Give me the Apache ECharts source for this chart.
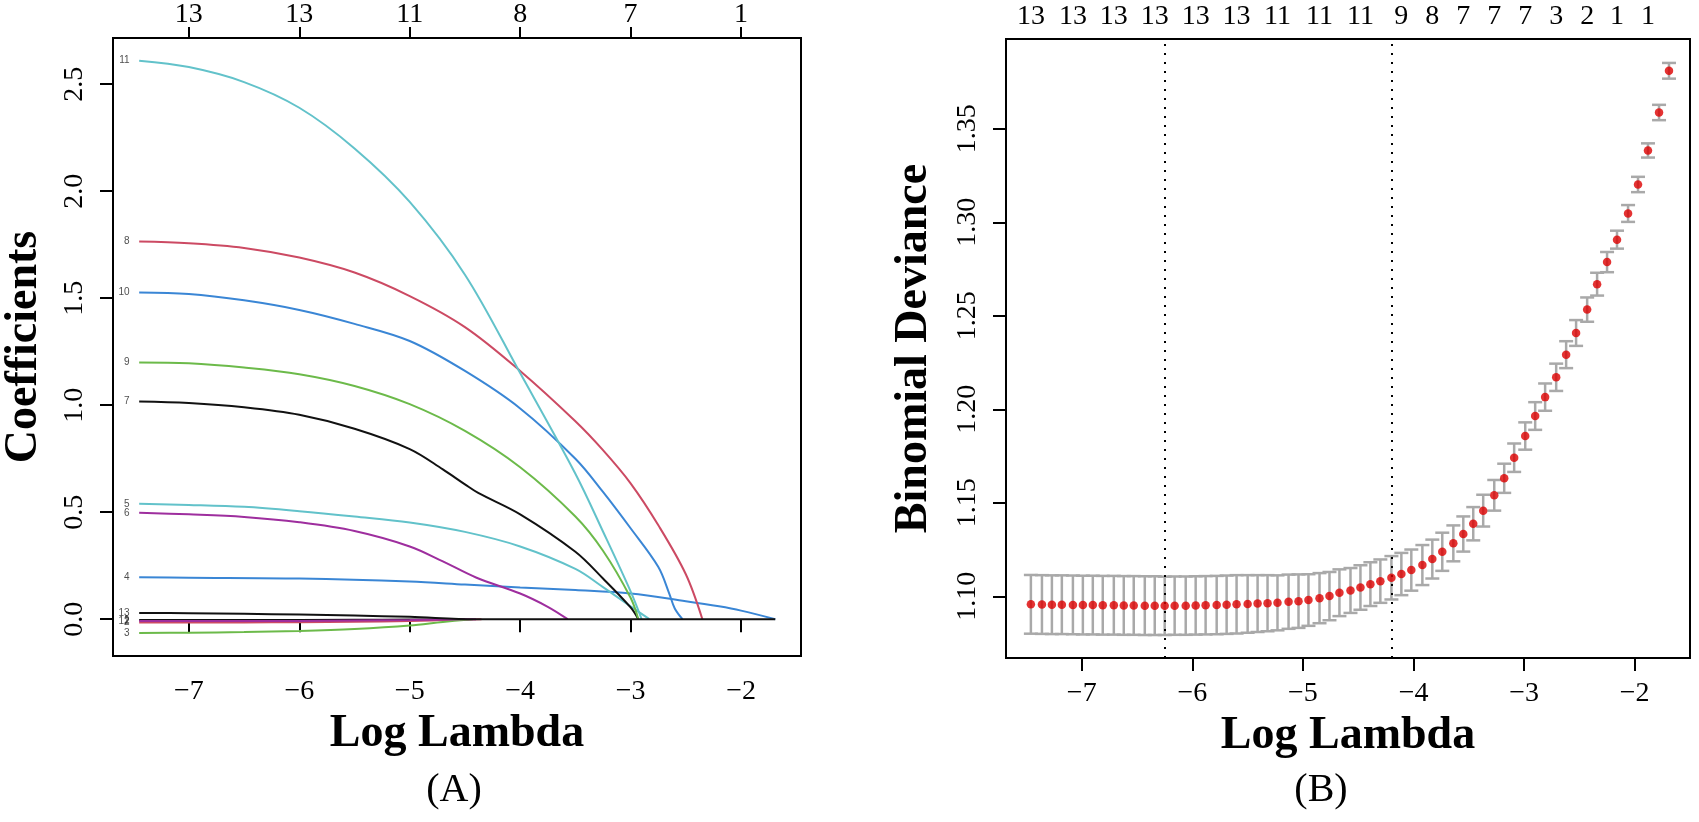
<!DOCTYPE html>
<html>
<head>
<meta charset="utf-8">
<title>LASSO coefficient paths and cross-validation</title>
<script src="https://cdn.jsdelivr.net/npm/echarts@6/dist/echarts.min.js"></script>
<style>
  html, body { margin: 0; padding: 0; background: #fff; }
  #chart { width: 1699px; height: 822px; }
</style>
</head>
<body>
<div id="chart"></div>
<script>
// (A) coefficient paths, [log lambda, coefficient] per variable
var coef1  = [[-7.45, -0.004], [-6.5, -0.004], [-5.5, -0.003], [-5, -0.002], [-4.5, 0]];
var coef2  = [[-7.45, -0.016], [-6.5, -0.015], [-6, -0.014], [-5.5, -0.012], [-5, -0.008], [-4.6, -0.003], [-4.35, 0]];
var coef3  = [[-7.45, -0.064], [-7, -0.063], [-6.5, -0.060], [-6, -0.055], [-5.5, -0.046], [-5, -0.030], [-4.7, -0.013], [-4.43, 0]];
var coef4  = [[-7.45, 0.196], [-7, 0.194], [-6, 0.190], [-5, 0.176], [-4.5, 0.162], [-4, 0.148], [-3.5, 0.136], [-3, 0.120], [-2.5, 0.084], [-2.2, 0.060], [-2, 0.040], [-1.69, 0]];
var coef5  = [[-7.45, 0.539], [-7, 0.534], [-6.5, 0.525], [-6, 0.505], [-5.5, 0.480], [-5, 0.452], [-4.5, 0.408], [-4, 0.340], [-3.5, 0.235], [-3.25, 0.150], [-3, 0.060], [-2.83, 0]];
var coef6  = [[-7.45, 0.497], [-7, 0.490], [-6.5, 0.478], [-6, 0.453], [-5.5, 0.412], [-5, 0.340], [-4.7, 0.270], [-4.4, 0.195], [-4, 0.120], [-3.75, 0.058], [-3.57, 0]];
var coef7  = [[-7.45, 1.017], [-7, 1.010], [-6.5, 0.990], [-6, 0.955], [-5.5, 0.890], [-5, 0.795], [-4.7, 0.700], [-4.5, 0.630], [-4.38, 0.590], [-4, 0.490], [-3.5, 0.315], [-3.25, 0.190], [-3, 0.055], [-2.93, 0]];
var coef8  = [[-7.45, 1.765], [-7, 1.757], [-6.5, 1.735], [-6, 1.690], [-5.5, 1.620], [-5, 1.510], [-4.5, 1.365], [-4, 1.160], [-3.5, 0.925], [-3.25, 0.790], [-3, 0.635], [-2.75, 0.440], [-2.5, 0.210], [-2.35, 0]];
var coef9  = [[-7.45, 1.200], [-7, 1.196], [-6.5, 1.176], [-6, 1.145], [-5.5, 1.090], [-5, 1.005], [-4.5, 0.880], [-4, 0.710], [-3.5, 0.480], [-3.25, 0.320], [-3, 0.100], [-2.93, 0]];
var coef10 = [[-7.45, 1.527], [-7, 1.520], [-6.5, 1.490], [-6, 1.445], [-5.5, 1.380], [-5, 1.300], [-4.5, 1.160], [-4, 0.985], [-3.5, 0.750], [-3.25, 0.595], [-3, 0.425], [-2.75, 0.245], [-2.65, 0.120], [-2.6, 0.050], [-2.53, 0]];
var coef11 = [[-7.45, 2.610], [-7, 2.580], [-6.5, 2.510], [-6, 2.390], [-5.5, 2.200], [-5, 1.950], [-4.5, 1.610], [-4, 1.150], [-3.5, 0.680], [-3.25, 0.410], [-3, 0.130], [-2.9, 0]];
var coef12 = [[-7.45, -0.009], [-6.5, -0.009], [-6, -0.008], [-5.5, -0.006], [-5, -0.004], [-4.6, -0.001], [-4.4, 0]];
var coef13 = [[-7.45, 0.029], [-7, 0.028], [-6.5, 0.025], [-6, 0.022], [-5.5, 0.017], [-5, 0.011], [-4.4, 0], [-1.69, 0]];

var pathTicks = [-7, -6, -5, -4, -3, -2];
var pathTopLabels = ['13', '13', '11', '8', '7', '1'];
var coefTicks = [0, 0.5, 1, 1.5, 2, 2.5];

// (B) cross-validated binomial deviance
var logLambda = [-7.46, -7.36, -7.27, -7.18, -7.08, -6.99, -6.90, -6.81, -6.71, -6.62,
                 -6.53, -6.43, -6.34, -6.25, -6.16, -6.06, -5.97, -5.88, -5.78, -5.69,
                 -5.60, -5.50, -5.41, -5.32, -5.23, -5.13, -5.04, -4.95, -4.85, -4.76,
                 -4.67, -4.57, -4.48, -4.39, -4.30, -4.20, -4.11, -4.02, -3.92, -3.83,
                 -3.74, -3.64, -3.55, -3.46, -3.37, -3.27, -3.18, -3.09, -2.99, -2.90,
                 -2.81, -2.71, -2.62, -2.53, -2.43, -2.34, -2.25, -2.16, -2.06, -1.97,
                 -1.88, -1.78, -1.69];
var cvMean = [1.0957, 1.0956, 1.0955, 1.0955, 1.0954, 1.0953, 1.0953, 1.0952, 1.0952, 1.0951,
              1.0951, 1.0950, 1.0950, 1.0949, 1.0950, 1.0950, 1.0951, 1.0952, 1.0953, 1.0955,
              1.0957, 1.0959, 1.0961, 1.0963, 1.0965, 1.0971, 1.0974, 1.0980, 1.0990, 1.1001,
              1.1019, 1.1031, 1.1047, 1.1065, 1.1081, 1.1099, 1.1119, 1.1140, 1.1167, 1.1199,
              1.1238, 1.1283, 1.1333, 1.1388, 1.1458, 1.1540, 1.1631, 1.1741, 1.1857, 1.1964,
              1.2065, 1.2171, 1.2292, 1.2408, 1.2533, 1.2669, 1.2787, 1.2907, 1.3047, 1.3202,
              1.3384, 1.3587, 1.3810];
var cvSe = [0.0157, 0.0157, 0.0157, 0.0157, 0.0157, 0.0157, 0.0157, 0.0157, 0.0157, 0.0157,
            0.0157, 0.0157, 0.0157, 0.0156, 0.0156, 0.0156, 0.0156, 0.0156, 0.0156, 0.0156,
            0.0156, 0.0154, 0.0152, 0.0150, 0.0147, 0.0145, 0.0143, 0.0138, 0.0134, 0.0129,
            0.0125, 0.0120, 0.0119, 0.0117, 0.0116, 0.0116, 0.0113, 0.0110, 0.0107, 0.0104,
            0.0102, 0.0096, 0.0094, 0.0089, 0.0085, 0.0082, 0.0078, 0.0076, 0.0073, 0.0074,
            0.0073, 0.0073, 0.0072, 0.0069, 0.0065, 0.0061, 0.0054, 0.0048, 0.0045, 0.0041,
            0.0038, 0.0041, 0.0042];
var lambdaMin = -6.25;
var lambda1se = -4.20;
var cvTopAt = [-7.46, -7.08, -6.71, -6.34, -5.97, -5.60, -5.23, -4.85, -4.48, -4.11,
               -3.83, -3.55, -3.27, -2.99, -2.71, -2.43, -2.16, -1.88];
var cvTopLabels = ['13', '13', '13', '13', '13', '13', '11', '11', '11', '9',
                   '8', '7', '7', '7', '3', '2', '1', '1'];
var devTicks = [1.10, 1.15, 1.20, 1.25, 1.30, 1.35];

var serif = '"Liberation Serif", "Times New Roman", serif';

function minus(v) {
    return v < 0 ? '\u2212' + Math.abs(v) : String(v);
}
function lookup(at, labels) {
    return function (v) {
        var best = 0;
        for (var i = 1; i < at.length; i++) {
            if (Math.abs(at[i] - v) < Math.abs(at[best] - v)) best = i;
        }
        return labels[best];
    };
}

function bottomAxis(grid, min, max) {
    return {
        gridIndex: grid, type: 'value', position: 'bottom', min: min, max: max,
        axisLine: {show: false}, splitLine: {show: false},
        axisTick: {show: true, length: 13, customValues: pathTicks, lineStyle: {color: '#000', width: 2}},
        axisLabel: {customValues: pathTicks, margin: 22, fontSize: 28, color: '#000', fontFamily: serif, formatter: minus},
        name: 'Log Lambda', nameLocation: 'middle', nameGap: 55,
        nameTextStyle: {fontSize: 46, fontWeight: 'bold', color: '#000', fontFamily: serif}
    };
}

var pathColors = {
    black: '#111111', red: '#CC4A63', green: '#6CBA4A',
    blue: '#3A86D5', cyan: '#62C2CA', magenta: '#9E2E9E'
};
var paths = [
    ['1', coef1, 'black'], ['2', coef2, 'red'], ['3', coef3, 'green'],
    ['4', coef4, 'blue'], ['5', coef5, 'cyan'], ['6', coef6, 'magenta'],
    ['7', coef7, 'black'], ['8', coef8, 'red'], ['9', coef9, 'green'],
    ['10', coef10, 'blue'], ['11', coef11, 'cyan'], ['12', coef12, 'magenta'],
    ['13', coef13, 'black']
];

var series = [];
paths.forEach(function (p) {
    series.push({
        type: 'line', name: 'V' + p[0], xAxisIndex: 0, yAxisIndex: 0,
        data: p[1], showSymbol: false, smooth: 0.35,
        lineStyle: {color: pathColors[p[2]], width: 2}, silent: true, z: 3
    });
});
series.push({
    type: 'scatter', xAxisIndex: 0, yAxisIndex: 0, symbolSize: 1,
    itemStyle: {color: 'rgba(0,0,0,0)'}, silent: true, z: 4,
    data: paths.map(function (p) { return {name: p[0], value: p[1][0]}; }),
    label: {show: true, position: 'left', distance: 9, formatter: '{b}', fontSize: 10,
            color: '#222', fontFamily: '"Liberation Sans", Arial, sans-serif'}
});

series.push({
    type: 'custom', xAxisIndex: 2, yAxisIndex: 1, silent: true, z: 2,
    data: logLambda.map(function (x, i) { return [x, cvMean[i] - cvSe[i], cvMean[i] + cvSe[i]]; }),
    encode: {x: 0, y: [1, 2]},
    renderItem: function (params, api) {
        var x = api.value(0);
        var lo = api.coord([x, api.value(1)]);
        var hi = api.coord([x, api.value(2)]);
        var w = 7;
        var st = {stroke: '#A9A9A9', lineWidth: 2.5};
        return {
            type: 'group', children: [
                {type: 'line', shape: {x1: hi[0], y1: hi[1], x2: lo[0], y2: lo[1]}, style: st},
                {type: 'line', shape: {x1: hi[0] - w, y1: hi[1], x2: hi[0] + w, y2: hi[1]}, style: st},
                {type: 'line', shape: {x1: lo[0] - w, y1: lo[1], x2: lo[0] + w, y2: lo[1]}, style: st}
            ]
        };
    }
});
series.push({
    type: 'scatter', xAxisIndex: 2, yAxisIndex: 1, symbolSize: 8.5, silent: true, z: 5,
    itemStyle: {color: '#DD0000'},
    data: logLambda.map(function (x, i) { return [x, cvMean[i]]; }),
    markLine: {
        silent: true, symbol: 'none', label: {show: false},
        lineStyle: {color: '#000', width: 2, type: [2, 7]},
        data: [{xAxis: lambdaMin}, {xAxis: lambda1se}]
    }
});

var chart = echarts.init(document.getElementById('chart'), null, {renderer: 'canvas'});
chart.setOption({
    backgroundColor: '#ffffff',
    animation: false,
    grid: [
        {left: 111, right: 898, top: 38, bottom: 166, show: true, borderColor: '#000', borderWidth: 2, backgroundColor: 'transparent'},
        {left: 1006, right: 9, top: 39, bottom: 164, show: true, borderColor: '#000', borderWidth: 2, backgroundColor: 'transparent'}
    ],
    xAxis: [
        bottomAxis(0, -7.687, -1.457),
        {
            gridIndex: 0, type: 'value', position: 'top', min: -7.687, max: -1.457,
            axisLine: {show: false}, splitLine: {show: false},
            axisTick: {show: true, length: 11, customValues: pathTicks, lineStyle: {color: '#000', width: 2}},
            axisLabel: {customValues: pathTicks, margin: 9, fontSize: 28, color: '#000', fontFamily: serif,
                        formatter: lookup(pathTicks, pathTopLabels)}
        },
        bottomAxis(1, -7.685, -1.50),
        {
            gridIndex: 1, type: 'value', position: 'top', min: -7.685, max: -1.50,
            axisLine: {show: false}, splitLine: {show: false}, axisTick: {show: false},
            axisLabel: {customValues: cvTopAt, margin: 8, fontSize: 28, color: '#000', fontFamily: serif,
                        formatter: lookup(cvTopAt, cvTopLabels)}
        }
    ],
    yAxis: [
        {
            gridIndex: 0, type: 'value', min: -0.172, max: 2.716,
            axisLine: {show: false}, splitLine: {show: false},
            axisTick: {show: true, length: 13, customValues: coefTicks, lineStyle: {color: '#000', width: 2}},
            axisLabel: {customValues: coefTicks, rotate: 90, margin: 24, fontSize: 28, color: '#000', fontFamily: serif,
                        formatter: function (v) { return v.toFixed(1); }},
            name: 'Coefficients', nameLocation: 'middle', nameRotate: 90, nameGap: 66,
            nameTextStyle: {fontSize: 46, fontWeight: 'bold', color: '#000', fontFamily: serif}
        },
        {
            gridIndex: 1, type: 'value', min: 1.067, max: 1.398,
            axisLine: {show: false}, splitLine: {show: false},
            axisTick: {show: true, length: 13, customValues: devTicks, lineStyle: {color: '#000', width: 2}},
            axisLabel: {customValues: devTicks, rotate: 90, margin: 24, fontSize: 28, color: '#000', fontFamily: serif,
                        formatter: function (v) { return v.toFixed(2); }},
            name: 'Binomial Deviance', nameLocation: 'middle', nameRotate: 90, nameGap: 69,
            nameTextStyle: {fontSize: 46, fontWeight: 'bold', color: '#000', fontFamily: serif}
        }
    ],
    graphic: [
        {type: 'text', x: 454, y: 790, style: {text: '(A)', font: '40px ' + serif, fill: '#000', textAlign: 'center', textVerticalAlign: 'middle'}},
        {type: 'text', x: 1321, y: 790, style: {text: '(B)', font: '40px ' + serif, fill: '#000', textAlign: 'center', textVerticalAlign: 'middle'}}
    ],
    series: series
});
</script>
</body>
</html>
